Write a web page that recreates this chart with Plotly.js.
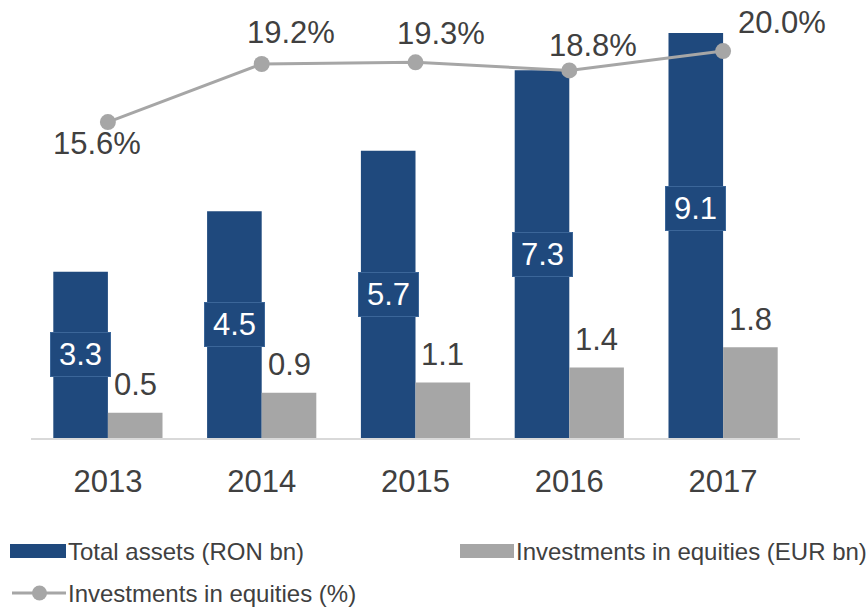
<!DOCTYPE html>
<html>
<head>
<meta charset="utf-8">
<script src="https://cdn.plot.ly/plotly-3.0.1.min.js"></script>
<style>html,body{margin:0;padding:0;background:#fff;}#chart{width:866px;height:609px;}</style>
</head>
<body>
<div id="chart"></div>
<script>
// ---- data ----
var years = ["2013", "2014", "2015", "2016", "2017"];
var totalAssets = [3.3, 4.5, 5.7, 7.3, 9.1];          // RON bn
var equitiesEUR = [0.5, 0.9, 1.1, 1.4, 1.8];          // EUR bn
var equitiesPct = [15.6, 19.2, 19.3, 18.8, 20.0];     // %
var seriesNames = ["Total assets (RON bn)", "Investments in equities (EUR bn)", "Investments in equities (%)"];

// ---- style / layout ----
var BLUE = "#1F497D", GREY = "#A6A6A6", TXT = "#404040";
var FONT = "Liberation Sans, Arial, sans-serif";
var W = 866, H = 609, ML = 31, MR = 66, MT = 33, MB = 171;
var PW = W - ML - MR, PH = H - MT - MB;
function px2x(p){ return (p - ML) / PW; }
function px2y(p){ return (H - MB - p) / PH; }

// pixel offsets of the % labels relative to their points
var pctShift = [[-11, -21], [29, 31], [25, 29], [24, 25], [59, 29]];

var traces = [
  {type: "bar", x: years, y: totalAssets, name: seriesNames[0], marker: {color: BLUE}, showlegend: false, hoverinfo: "none"},
  {type: "bar", x: years, y: equitiesEUR, name: seriesNames[1], marker: {color: GREY}, showlegend: false, hoverinfo: "none"},
  {type: "scatter", mode: "lines+markers", x: years, y: equitiesPct, yaxis: "y2", name: seriesNames[2],
   line: {color: GREY, width: 3}, marker: {color: GREY, size: 16}, showlegend: false, hoverinfo: "none", cliponaxis: false}
];

var half = (1 - 0.29) / 4;
var LBL = 31;
var annotations = [];
years.forEach(function(yr, i){
  annotations.push({x: i - half, y: totalAssets[i] / 2, xref: "x", yref: "y", text: totalAssets[i].toFixed(1),
    showarrow: false, yanchor: "middle", font: {family: FONT, size: LBL, color: "#FFFFFF"},
    bgcolor: BLUE, bordercolor: "#3B6699", borderwidth: 1, width: 57, height: 41});
  annotations.push({x: i + half, y: equitiesEUR[i], xref: "x", yref: "y", text: equitiesEUR[i].toFixed(1),
    showarrow: false, yanchor: "middle", yshift: 28, font: {family: FONT, size: LBL, color: TXT}});
  annotations.push({x: i, y: equitiesPct[i], xref: "x", yref: "y2", text: equitiesPct[i].toFixed(1) + "%",
    showarrow: false, yanchor: "middle", xshift: pctShift[i][0], yshift: pctShift[i][1],
    font: {family: FONT, size: LBL, color: TXT}});
});

// custom legend
var legendFont = {family: FONT, size: 24, color: TXT};
var shapes = [
  {type: "rect", xref: "paper", yref: "paper", x0: px2x(10), x1: px2x(66), y0: px2y(558), y1: px2y(544), fillcolor: BLUE, line: {width: 0}},
  {type: "rect", xref: "paper", yref: "paper", x0: px2x(460), x1: px2x(514), y0: px2y(558), y1: px2y(544), fillcolor: GREY, line: {width: 0}},
  {type: "line", xref: "paper", yref: "paper", x0: px2x(12), x1: px2x(66), y0: px2y(593), y1: px2y(593), line: {color: GREY, width: 3}},
  {type: "circle", xref: "paper", yref: "paper", x0: px2x(32), x1: px2x(47), y0: px2y(600.5), y1: px2y(585.5), fillcolor: GREY, line: {width: 0}}
];
annotations.push({xref: "paper", yref: "paper", x: px2x(66), y: px2y(551), xanchor: "left", yanchor: "middle", showarrow: false, text: seriesNames[0], font: legendFont});
annotations.push({xref: "paper", yref: "paper", x: px2x(514), y: px2y(551), xanchor: "left", yanchor: "middle", showarrow: false, text: seriesNames[1], font: legendFont});
annotations.push({xref: "paper", yref: "paper", x: px2x(66), y: px2y(593), xanchor: "left", yanchor: "middle", showarrow: false, text: seriesNames[2], font: legendFont});

var layout = {
  width: W, height: H,
  margin: {l: ML, r: MR, t: MT, b: MB, pad: 0},
  paper_bgcolor: "#FFFFFF", plot_bgcolor: "#FFFFFF",
  barmode: "group", bargap: 0.29, bargroupgap: 0,
  showlegend: false,
  font: {family: FONT, color: TXT},
  xaxis: {type: "category", range: [-0.5, 4.5], autorange: false, showgrid: false, zeroline: false, showline: true, linecolor: "#D9D9D9", linewidth: 2,
          ticks: "", ticklabelstandoff: 15, tickfont: {family: FONT, size: LBL, color: TXT}, fixedrange: true},
  yaxis: {range: [0, 8.04], visible: false, showgrid: false, zeroline: false, fixedrange: true},
  yaxis2: {range: [-3.98, 21.12], overlaying: "y", side: "right", visible: false, showgrid: false, zeroline: false, fixedrange: true},
  annotations: annotations,
  shapes: shapes
};

Plotly.newPlot("chart", traces, layout, {displayModeBar: false, staticPlot: true});
</script>
</body>
</html>
